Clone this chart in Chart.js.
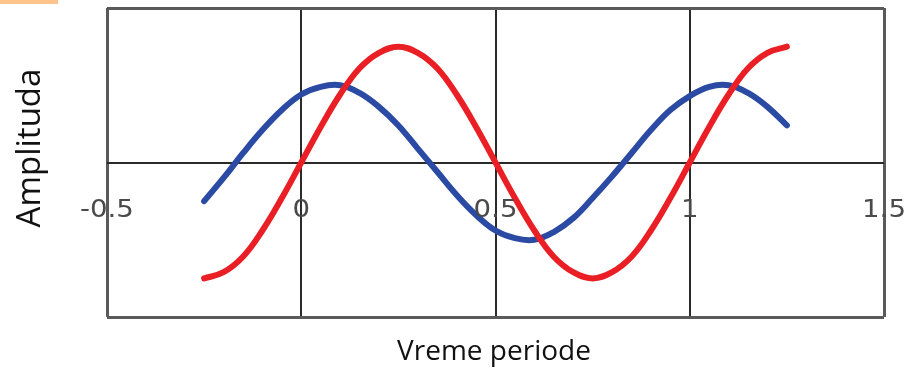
<!DOCTYPE html>
<html>
<head>
<meta charset="utf-8">
<script src="https://cdn.jsdelivr.net/npm/chart.js@4"></script>
<style>
  html, body { margin: 0; padding: 0; background: #fff; }
  #wrap { position: relative; width: 910px; height: 369px; }
  #tab { position: absolute; left: 0; top: 0; width: 58px; height: 4px; background: #ffc48c; }
</style>
</head>
<body>
<div id="wrap">
  <canvas id="chart" width="910" height="369"></canvas>
  <div id="tab"></div>
</div>
<script>
// --- Data ---
const xs = [-0.25, -0.2, -0.15, -0.1, -0.05, 0, 0.05, 0.1, 0.15, 0.2, 0.25, 0.3, 0.35, 0.4, 0.45, 0.5,
            0.55, 0.6, 0.65, 0.7, 0.75, 0.8, 0.85, 0.9, 0.95, 1, 1.05, 1.1, 1.15, 1.2, 1.25];
const redWave = [-0.75, -0.71, -0.61, -0.44, -0.23, 0, 0.23, 0.44, 0.61, 0.71, 0.75, 0.71, 0.61, 0.44, 0.23, 0,
                 -0.23, -0.44, -0.61, -0.71, -0.75, -0.71, -0.61, -0.44, -0.23, 0, 0.23, 0.44, 0.61, 0.71, 0.75];
const blueWave = [-0.25, -0.1, 0.06, 0.21, 0.34, 0.44, 0.49, 0.5, 0.45, 0.36, 0.24, 0.09, -0.06, -0.21, -0.34, -0.44,
                  -0.49, -0.5, -0.45, -0.36, -0.23, -0.09, 0.06, 0.21, 0.34, 0.43, 0.49, 0.5, 0.45, 0.36, 0.24];
const xTicks = [-0.5, 0, 0.5, 1, 1.5];
const yTicks = [-1, 0, 1];
const xTitle = 'Vreme periode';
const yTitle = 'Amplituda';

const toPoints = ys => xs.map((x, i) => ({ x: x, y: ys[i] }));

// outer frame is lighter and thicker than the inner lines
const gridColor = (ctx, edges) => edges.includes(ctx.tick && ctx.tick.value) ? '#5a5a5a' : '#2a2a2a';
const gridWidth = (ctx, edges) => edges.includes(ctx.tick && ctx.tick.value) ? 3 : 2;

// --- Tick labels under the zero line + axis titles ---
const axisText = {
  id: 'axisText',
  afterDraw(chart) {
    const c = chart.ctx;
    const sx = chart.scales.x;
    const y0 = chart.scales.y.getPixelForValue(0);
    c.save();
    c.textAlign = 'center';
    c.textBaseline = 'middle';

    // wide grey numbers sitting below the zero line
    c.fillStyle = '#4a4a4a';
    c.font = '24px "DejaVu Sans"';
    xTicks.forEach(v => {
      c.save();
      c.translate(sx.getPixelForValue(v), y0 + 48);
      c.scale(1.15, 1);
      c.fillText(String(v), 0, 0);
      c.restore();
    });

    c.fillStyle = '#111';
    c.font = '28px "Open Sans"';
    c.fillText(xTitle, 494, 352);
    c.translate(31, 148);
    c.rotate(-Math.PI / 2);
    c.font = '33px "Open Sans"';
    c.fillText(yTitle, 0, 0);
    c.restore();
  }
};

// --- Chart ---
const ctx = document.getElementById('chart').getContext('2d');
new Chart(ctx, {
  type: 'line',
  data: {
    datasets: [
      {
        label: 'red',
        data: toPoints(redWave),
        borderColor: '#ea1f25',
        borderWidth: 6,
        pointRadius: 0,
        tension: 0.4,
        borderCapStyle: 'round'
      },
      {
        label: 'blue',
        data: toPoints(blueWave),
        borderColor: '#2b4aa3',
        borderWidth: 6,
        pointRadius: 0,
        tension: 0.4,
        borderCapStyle: 'round'
      }
    ]
  },
  options: {
    responsive: false,
    animation: false,
    layout: { padding: { left: 107, right: 26, top: 8, bottom: 52 } },
    plugins: {
      legend: { display: false },
      tooltip: { enabled: false }
    },
    scales: {
      x: {
        type: 'linear',
        min: -0.5,
        max: 1.5,
        afterBuildTicks: axis => { axis.ticks = xTicks.map(v => ({ value: v })); },
        grid: {
          drawTicks: false,
          color: c => gridColor(c, [-0.5, 1.5]),
          lineWidth: c => gridWidth(c, [-0.5, 1.5])
        },
        border: { display: false },
        ticks: { display: false }
      },
      y: {
        type: 'linear',
        min: -1,
        max: 1,
        afterBuildTicks: axis => { axis.ticks = yTicks.map(v => ({ value: v })); },
        grid: {
          drawTicks: false,
          color: c => gridColor(c, [-1, 1]),
          lineWidth: c => gridWidth(c, [-1, 1])
        },
        border: { display: false },
        ticks: { display: false }
      }
    }
  },
  plugins: [axisText]
});
</script>
</body>
</html>
